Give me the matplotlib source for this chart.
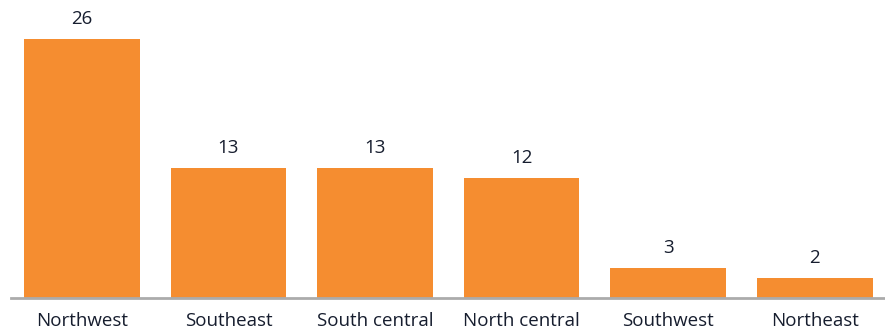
import matplotlib.pyplot as plt

regions = ["Northwest", "Southeast", "South central", "North central", "Southwest", "Northeast"]
counts = [26, 13, 13, 12, 3, 2]

bar_color = "#F58D30"
text_color = "#161D2E"

plt.rcParams['font.family'] = ['Open Sans', 'DejaVu Sans']

fig = plt.figure(figsize=(8.85, 3.33), dpi=100)
ax = fig.add_axes([11 / 885, 35 / 333, 874 / 885, 298 / 333])

x = list(range(len(regions)))
bars = ax.bar(x, counts, width=0.79, color=bar_color)

for rect, val in zip(bars, counts):
    ax.annotate(str(val), (rect.get_x() + rect.get_width() / 2, val),
                xytext=(0, 8), textcoords='offset points',
                ha='center', va='bottom', fontsize=13.5, color=text_color)

ax.set_xlim(-0.484, len(regions) - 0.52)
ax.set_ylim(0, 29.9)
ax.set_xticks(x)
ax.set_xticklabels(regions, fontsize=13.5, color=text_color)
ax.tick_params(axis='x', length=0, pad=10)
ax.set_yticks([])

for side in ('top', 'right', 'left'):
    ax.spines[side].set_visible(False)
ax.spines['bottom'].set_color('#ABABAB')
ax.spines['bottom'].set_linewidth(2)

fig.savefig("out.png", dpi=100)
